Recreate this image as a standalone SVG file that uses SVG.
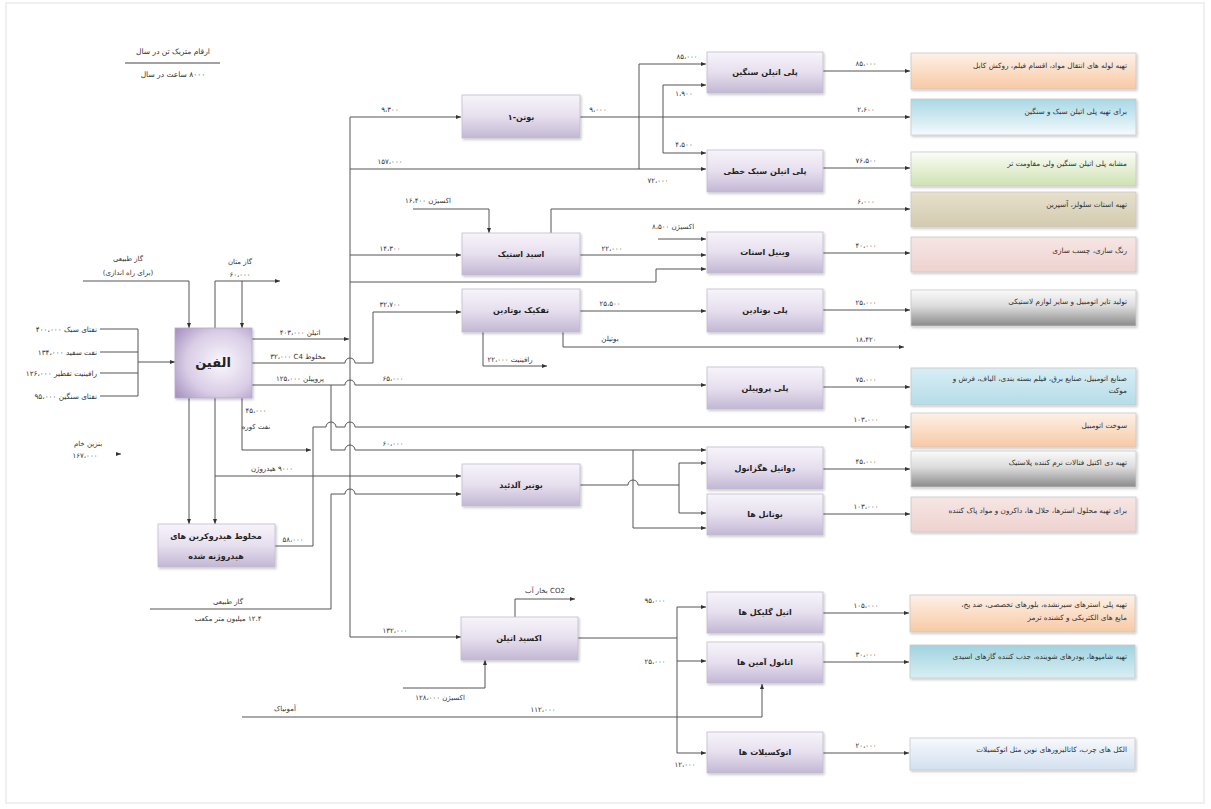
<svg xmlns="http://www.w3.org/2000/svg" width="1211" height="809" viewBox="0 0 1211 809">
<style>
text{font-family:"DejaVu Sans","Noto Sans",sans-serif;fill:#333;}
.s{font-size:7px;text-anchor:middle;direction:rtl;}
.r{font-size:7.3px;direction:rtl;text-anchor:start;}
.b{font-size:8px;font-weight:bold;text-anchor:middle;fill:#222;direction:rtl;}
.c path{fill:none;stroke:#555;stroke-width:1;}
.c .a{marker-end:url(#ar);}
.p{fill:url(#gp);stroke:#c4bccd;stroke-width:0.8;filter:url(#sh);}
.ap{stroke:#c9c9c9;stroke-width:0.8;filter:url(#sh);}
</style>
<defs>
<marker id="ar" viewBox="0 0 10 10" refX="10" refY="5" markerWidth="5" markerHeight="5" orient="auto"><path d="M0,1 L10,5 L0,9 z" fill="#333"/></marker>
<filter id="sh" x="-10%" y="-10%" width="125%" height="135%"><feDropShadow dx="1.2" dy="1.5" stdDeviation="1" flood-color="#000" flood-opacity="0.22"/></filter>
<linearGradient id="gp" x1="0" y1="0" x2="0" y2="1"><stop offset="0" stop-color="#f7f4fa"/><stop offset="0.5" stop-color="#e6dfee"/><stop offset="1" stop-color="#c3b7d4"/></linearGradient>
<radialGradient id="go" cx="0.6" cy="0.5" r="0.75"><stop offset="0" stop-color="#faf7fc"/><stop offset="0.6" stop-color="#d9cde6"/><stop offset="1" stop-color="#a792c2"/></radialGradient>
<linearGradient id="gor" x1="0" y1="0" x2="0" y2="1"><stop offset="0" stop-color="#fdf1e8"/><stop offset="1" stop-color="#f8c9a4"/></linearGradient>
<linearGradient id="gbl" x1="0" y1="0" x2="0" y2="1"><stop offset="0" stop-color="#a9d8e6"/><stop offset="0.6" stop-color="#d5ecf3"/><stop offset="1" stop-color="#f4fbfd"/></linearGradient>
<linearGradient id="ggr" x1="0" y1="0" x2="0" y2="1"><stop offset="0" stop-color="#fbfdf7"/><stop offset="1" stop-color="#cfe1b3"/></linearGradient>
<linearGradient id="gtn" x1="0" y1="0" x2="0" y2="1"><stop offset="0" stop-color="#e6e0cc"/><stop offset="1" stop-color="#d3cbb0"/></linearGradient>
<linearGradient id="gpk" x1="0" y1="0" x2="0" y2="1"><stop offset="0" stop-color="#f6e6e4"/><stop offset="1" stop-color="#eed2cf"/></linearGradient>
<linearGradient id="ggy" x1="0" y1="0" x2="0" y2="1"><stop offset="0" stop-color="#fbfbfb"/><stop offset="0.45" stop-color="#dcdcdc"/><stop offset="1" stop-color="#8a8a8a"/></linearGradient>
<linearGradient id="glb" x1="0" y1="0" x2="0" y2="1"><stop offset="0" stop-color="#d8eef5"/><stop offset="1" stop-color="#b5dce8"/></linearGradient>
<linearGradient id="gtl" x1="0" y1="0" x2="0" y2="1"><stop offset="0" stop-color="#9fd3e0"/><stop offset="1" stop-color="#d9eef3"/></linearGradient>
<linearGradient id="gwb" x1="0" y1="0" x2="0" y2="1"><stop offset="0" stop-color="#f7f9fc"/><stop offset="1" stop-color="#d3e0f0"/></linearGradient>
</defs>
<rect x="0" y="0" width="1211" height="809" fill="#fff"/>
<rect x="6" y="3" width="1198" height="800" fill="none" stroke="#ececec" stroke-width="1.5"/>

<g id="title">
<text class="s" x="173" y="54" style="font-size:7.5px">ارقام متریک تن در سال</text>
<path d="M125,63 H220" stroke="#444" stroke-width="1"/>
<text class="s" x="173" y="77" style="font-size:7.5px">۸۰۰۰ ساعت در سال</text>
</g>

<g class="c" id="connectors">
<path d="M100,329 H138 M100,352 H138 M100,373 H138 M100,396 H138 M138,329 V396"/>
<path class="a" d="M138,362 H175"/>
<path class="a" d="M83,281 H189 V328"/>
<path class="a" d="M215,328 V281 H280"/>
<path class="a" d="M242,281 V328"/>
<path class="a" d="M116,454 H121"/>
<path class="a" d="M189,398 V524"/>
<path class="a" d="M215,398 V524"/>
<path class="a" d="M215,476 H461"/>
<path class="a" d="M242,398 V450 H311"/>
<path class="a" d="M275,546 H313 V427 H326 A5,5 0 0 1 336,427 H345 A5,5 0 0 1 355,427 H910"/>
<path class="a" d="M252,339 H349"/>
<path class="a" d="M350,117 V637 H461"/>
<path class="a" d="M350,117 H461"/>
<path d="M350,169 H639 M639,64 V169"/>
<path class="a" d="M639,64 H706"/>
<path class="a" d="M639,169 H706"/>
<path d="M663,85 V153"/>
<path class="a" d="M663,85 H706"/>
<path class="a" d="M663,153 H706"/>
<path class="a" d="M580,117 H910"/>
<path class="a" d="M350,255 H461"/>
<path class="a" d="M413,209 H489 V233"/>
<path class="a" d="M551,233 V209 H910"/>
<path class="a" d="M580,255 H706"/>
<path class="a" d="M658,239 H706"/>
<path class="a" d="M350,282 H656 V269 H706"/>
<path class="a" d="M252,363 H345 A5,5 0 0 1 355,363 H373 V312 H461"/>
<path class="a" d="M580,311 H706"/>
<path class="a" d="M563,332 V347 H904"/>
<path class="a" d="M483,332 V366 H547"/>
<path class="a" d="M252,385 H345 A5,5 0 0 1 355,385 H706"/>
<path class="a" d="M331,385 V450 H345 A5,5 0 0 1 355,450 H706"/>
<path class="a" d="M633,450 V528 H706"/>
<path class="a" d="M150,609 H331 V494 H345 A5,5 0 0 1 355,494 H461"/>
<path d="M580,485 H628 A5,5 0 0 1 638,485 H679 M679,463 V513"/>
<path class="a" d="M679,463 H706"/>
<path class="a" d="M679,513 H706"/>
<path class="a" d="M822,71 H910"/>
<path class="a" d="M822,168 H910"/>
<path class="a" d="M822,253 H910"/>
<path class="a" d="M822,310 H910"/>
<path class="a" d="M822,387 H910"/>
<path class="a" d="M822,469 H910"/>
<path class="a" d="M822,514 H910"/>
<path class="a" d="M822,613 H909"/>
<path class="a" d="M822,662 H909"/>
<path class="a" d="M822,753 H909"/>
<path d="M577,638 H677 M677,607 V753"/>
<path class="a" d="M677,607 H706"/>
<path class="a" d="M677,661 H706"/>
<path class="a" d="M677,753 H706"/>
<path class="a" d="M515,617 V599 H575"/>
<path class="a" d="M403,688 H485 V660"/>
<path class="a" d="M242,717 H762 V684"/>
</g>

<g id="labels">
<text class="r" x="97" y="332">نفتای سبک ۴۰۰،۰۰۰</text>
<text class="r" x="97" y="355">نفت سفید ۱۳۴،۰۰۰</text>
<text class="r" x="97" y="376">رافینیت تقطیر ۱۲۶،۰۰۰</text>
<text class="r" x="97" y="399">نفتای سنگین ۹۵،۰۰۰</text>
<text class="s" x="88" y="446">بنزین خام</text>
<text class="s" x="85" y="458">۱۶۷،۰۰۰</text>
<text class="s" x="128" y="261">گاز طبیعی</text>
<text class="s" x="128" y="275">(برای راه اندازی)</text>
<text class="s" x="240" y="264">گاز متان</text>
<text class="s" x="240" y="277">۶۰،۰۰۰</text>
<text class="s" x="300" y="335">اتیلن ۴۰۳،۰۰۰</text>
<text class="s" x="298" y="359">مخلوط C4&#x200F; ۳۲،۰۰۰</text>
<text class="s" x="300" y="381">پروپیلن ۱۲۵،۰۰۰</text>
<text class="s" x="256" y="413">۴۵،۰۰۰</text>
<text class="s" x="256" y="429">نفت کوره</text>
<text class="s" x="272" y="471">۹۰۰۰ هیدروژن</text>
<text class="s" x="293" y="542">۵۸،۰۰۰</text>
<text class="s" x="228" y="604">گاز طبیعی</text>
<text class="s" x="228" y="621">۱۲.۴ میلیون متر مکعب</text>
<text class="s" x="285" y="711">آمونیاک</text>
<text class="s" x="543" y="712">۱۱۲،۰۰۰</text>
<text class="s" x="440" y="700">اکسیژن ۱۲۸،۰۰۰</text>
<text class="s" x="545" y="593">CO2 بخار آب</text>
<text class="s" x="655" y="603">۹۵،۰۰۰</text>
<text class="s" x="655" y="664">۲۵،۰۰۰</text>
<text class="s" x="685" y="767">۱۲،۰۰۰</text>
<text class="s" x="390" y="112">۹،۳۰۰</text>
<text class="s" x="390" y="164">۱۵۷،۰۰۰</text>
<text class="s" x="390" y="251">۱۴،۳۰۰</text>
<text class="s" x="390" y="307">۳۲،۷۰۰</text>
<text class="s" x="393" y="381">۶۵،۰۰۰</text>
<text class="s" x="393" y="446">۶۰،۰۰۰</text>
<text class="s" x="395" y="633">۱۳۲،۰۰۰</text>
<text class="s" x="598" y="112">۹،۰۰۰</text>
<text class="s" x="687" y="59">۸۵،۰۰۰</text>
<text class="s" x="684" y="96">۱،۹۰۰</text>
<text class="s" x="684" y="147">۴،۵۰۰</text>
<text class="s" x="658" y="183">۷۲،۰۰۰</text>
<text class="s" x="428" y="203">اکسیژن ۱۶،۴۰۰</text>
<text class="s" x="612" y="251">۲۲،۰۰۰</text>
<text class="s" x="673" y="229">اکسیژن ۸،۵۰۰</text>
<text class="s" x="610" y="306">۲۵،۵۰۰</text>
<text class="s" x="610" y="341">بوتیلن</text>
<text class="s" x="510" y="362">رافینیت ۲۲،۰۰۰</text>
<text class="s" x="866" y="66">۸۵،۰۰۰</text>
<text class="s" x="866" y="112">۲،۶۰۰</text>
<text class="s" x="866" y="163">۷۶،۵۰۰</text>
<text class="s" x="866" y="204">۶،۰۰۰</text>
<text class="s" x="866" y="248">۴۰،۰۰۰</text>
<text class="s" x="866" y="305">۲۵،۰۰۰</text>
<text class="s" x="866" y="342">۱۸،۴۲۰</text>
<text class="s" x="866" y="382">۷۵،۰۰۰</text>
<text class="s" x="866" y="422">۱۰۳،۰۰۰</text>
<text class="s" x="866" y="464">۴۵،۰۰۰</text>
<text class="s" x="866" y="509">۱۰۳،۰۰۰</text>
<text class="s" x="866" y="608">۱۰۵،۰۰۰</text>
<text class="s" x="866" y="657">۳۰،۰۰۰</text>
<text class="s" x="866" y="748">۲۰،۰۰۰</text>
</g>

<g id="olefin"><rect x="175" y="328" width="77" height="70" fill="url(#go)" stroke="#b8aac8" stroke-width="0.8" filter="url(#sh)"/><text class="b" x="213" y="367" style="font-size:13px">الفین</text></g>
<g id="mixture"><rect class="p" x="158" y="524" width="117" height="43"/><text class="b" x="216" y="539">مخلوط هیدروکربن های</text><text class="b" x="216" y="559">هیدروژنه شده</text></g>
<g id="butene1"><rect class="p" x="462" y="95" width="118" height="43"/><text class="b" x="521" y="120">بوتن-۱</text></g>
<g id="acetic"><rect class="p" x="462" y="233" width="118" height="42"/><text class="b" x="521" y="257">اسید استیک</text></g>
<g id="butadiene"><rect class="p" x="462" y="289" width="118" height="43"/><text class="b" x="521" y="313">تفکیک بوتادین</text></g>
<g id="butyraldehyde"><rect class="p" x="462" y="464" width="118" height="42"/><text class="b" x="521" y="488">بوتیر آلدئید</text></g>
<g id="eo"><rect class="p" x="461" y="617" width="117" height="43"/><text class="b" x="519" y="641">اکسید اتیلن</text></g>
<g id="hdpe"><rect class="p" x="707" y="52" width="116" height="41"/><text class="b" x="765" y="75">پلی اتیلن سنگین</text></g>
<g id="lldpe"><rect class="p" x="707" y="150" width="116" height="42"/><text class="b" x="765" y="174">پلی اتیلن سبک خطی</text></g>
<g id="vam"><rect class="p" x="707" y="232" width="116" height="41"/><text class="b" x="765" y="255">وینیل استات</text></g>
<g id="pb"><rect class="p" x="707" y="289" width="116" height="43"/><text class="b" x="765" y="313">پلی بوتادین</text></g>
<g id="pp"><rect class="p" x="707" y="367" width="116" height="42"/><text class="b" x="765" y="391">پلی پروپیلن</text></g>
<g id="eh"><rect class="p" x="707" y="447" width="116" height="42"/><text class="b" x="765" y="471">دواتیل هگزانول</text></g>
<g id="butanols"><rect class="p" x="707" y="494" width="116" height="41"/><text class="b" x="765" y="517">بوتانل ها</text></g>
<g id="eg"><rect class="p" x="707" y="592" width="116" height="41"/><text class="b" x="765" y="615">اتیل گلیکل ها</text></g>
<g id="ea"><rect class="p" x="707" y="642" width="116" height="41"/><text class="b" x="765" y="665">اتانول آمین ها</text></g>
<g id="ethox"><rect class="p" x="707" y="732" width="116" height="41"/><text class="b" x="765" y="755">اتوکسیلات ها</text></g>

<g id="app1"><rect class="ap" x="911" y="53" width="225" height="36" fill="url(#gor)"/><text class="r" x="1127" y="68">تهیه لوله های انتقال مواد، اقسام فیلم، روکش کابل</text></g>
<g id="app2"><rect class="ap" x="911" y="99" width="225" height="36" fill="url(#gbl)"/><text class="r" x="1127" y="114">برای تهیه پلی اتیلن سبک و سنگین</text></g>
<g id="app3"><rect class="ap" x="911" y="152" width="225" height="34" fill="url(#ggr)"/><text class="r" x="1127" y="166">مشابه پلی اتیلن سنگین ولی مقاومت تر</text></g>
<g id="app4"><rect class="ap" x="911" y="192" width="225" height="35" fill="url(#gtn)"/><text class="r" x="1127" y="207">تهیه استات سلولز، آسپرین</text></g>
<g id="app5"><rect class="ap" x="911" y="237" width="225" height="35" fill="url(#gpk)"/><text class="r" x="1127" y="253">رنگ سازی، چسب سازی</text></g>
<g id="app6"><rect class="ap" x="911" y="290" width="225" height="36" fill="url(#ggy)"/><text class="r" x="1127" y="304">تولید تایر اتومبیل و سایر لوازم لاستیکی</text></g>
<g id="app7"><rect class="ap" x="911" y="368" width="225" height="37" fill="url(#glb)"/><text class="r" x="1127" y="381">صنایع اتومبیل، صنایع برق، فیلم بسته بندی، الیاف، فرش و</text><text class="r" x="1127" y="393">موکت</text></g>
<g id="app8"><rect class="ap" x="911" y="413" width="225" height="34" fill="url(#gor)"/><text class="r" x="1127" y="428">سوخت اتومبیل</text></g>
<g id="app9"><rect class="ap" x="911" y="451" width="225" height="36" fill="url(#ggy)"/><text class="r" x="1127" y="465">تهیه دی اکتیل فتالات نرم کننده پلاستیک</text></g>
<g id="app10"><rect class="ap" x="911" y="497" width="225" height="35" fill="url(#gpk)"/><text class="r" x="1127" y="513">برای تهیه محلول استرها، حلال ها، داکرون و مواد پاک کننده</text></g>
<g id="app11"><rect class="ap" x="910" y="595" width="225" height="37" fill="url(#gor)"/><text class="r" x="1127" y="607">تهیه پلی استرهای سیرنشده، بلورهای تخصصی، ضد یخ،</text><text class="r" x="1127" y="620">مایع های الکتریکی و کشنده ترمز</text></g>
<g id="app12"><rect class="ap" x="910" y="645" width="225" height="33" fill="url(#gtl)"/><text class="r" x="1127" y="659">تهیه شامپوها، پودرهای شوینده، جذب کننده گازهای اسیدی</text></g>
<g id="app13"><rect class="ap" x="910" y="738" width="225" height="32" fill="url(#gwb)"/><text class="r" x="1127" y="752">الکل های چرب، کاتالیزورهای نوین مثل اتوکسیلات</text></g>
</svg>
